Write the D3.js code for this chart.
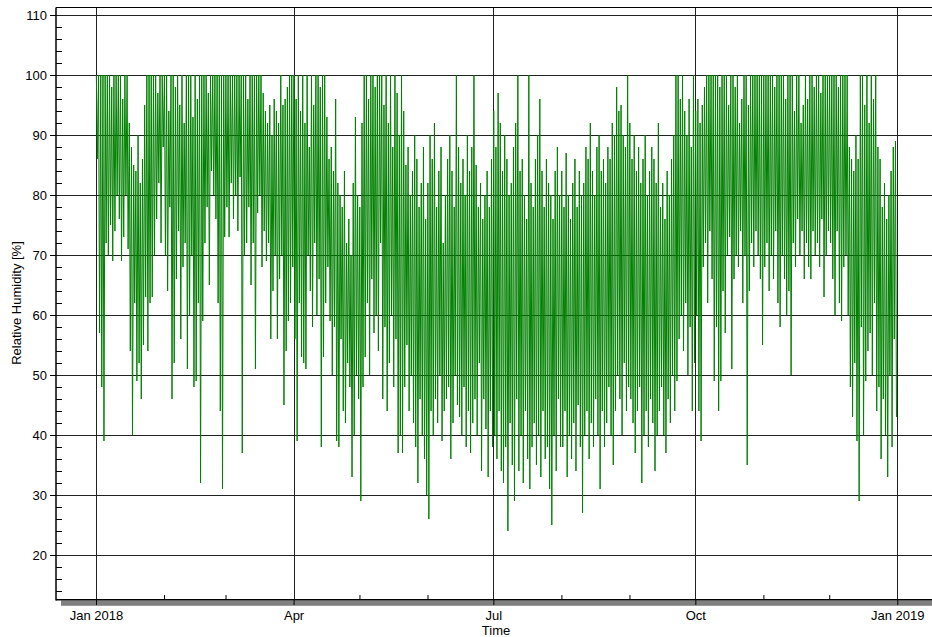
<!DOCTYPE html>
<html><head><meta charset="utf-8">
<script src="https://cdn.jsdelivr.net/npm/d3@7"></script>
<style>
body{margin:0;background:#fff}
svg{display:block}
text{font-family:"Liberation Sans",Arial,sans-serif}
</style></head>
<body><svg id="c" width="932" height="637"></svg>
<script>
// Daily maximum relative humidity [%] per month of 2018
const maxJan=[100,100,100,100,100,100,100,98,100,100,100,100,96,100,100,92,88,85,84,90,82,86,95,100,100,100,100,100,97,100,100];
const maxFeb=[100,100,94,100,100,98,100,95,100,92,100,100,100,93,100,96,100,100,100,100,97,100,100,100,100,100,100,100];
const maxMar=[100,100,100,100,100,100,100,100,100,100,96,100,100,100,100,100,100,97,94,92,95,90,96,94,92,100,95,96,98,100,100];
const maxApr=[100,96,100,94,100,92,100,88,100,95,100,100,98,100,100,93,86,88,84,96,82,80,78,84,72,76,70,82,93,80];
const maxMay=[78,92,100,100,96,100,100,98,100,100,100,95,100,92,100,88,100,97,90,100,94,85,88,80,84,90,86,78,82,88,76];
const maxJun=[82,90,86,92,78,84,88,72,80,86,90,84,78,100,88,82,86,80,90,84,88,100,85,78,82,76,80,84,78,86];
const maxJul=[94,88,97,92,84,90,86,80,82,88,92,100,84,86,80,76,100,82,78,86,90,96,84,78,86,82,80,76,84,88,80];
const maxAug=[84,78,87,80,76,82,86,78,84,80,82,88,86,92,84,80,88,90,84,86,82,88,86,92,90,98,94,95,90,88,100];
const maxSep=[92,86,90,84,88,82,86,90,80,84,88,86,82,92,78,82,76,84,80,86,90,100,100,96,100,94,90,96,88,100];
const maxOct=[94,96,92,95,98,100,100,100,100,100,100,98,100,100,100,95,100,100,98,100,92,96,100,100,95,100,100,100,100,100,100];
const maxNov=[100,100,100,100,100,98,100,100,100,100,96,100,100,100,94,100,100,92,95,100,96,100,100,98,100,100,97,100,100,100];
const maxDec=[100,100,100,100,98,100,100,100,100,88,86,84,90,86,100,100,95,100,92,100,96,100,88,86,78,82,76,80,84,88,89];
// Daily minimum relative humidity [%]
const minJan=[86,57,48,39,72,70,75,69,74,80,76,69,73,80,71,54,40,62,49,52,46,55,63,54,62,63,70,76,82,72,88];
const minFeb=[70,64,78,46,52,66,74,56,68,72,51,60,70,48,49,62,32,59,72,78,65,84,80,76,62,44,31,73];
const minMar=[78,73,82,76,80,74,83,37,70,72,78,65,72,51,77,80,68,74,69,72,56,64,70,56,66,70,45,54,59,62,68];
const minApr=[56,39,62,53,52,51,70,64,58,72,60,66,38,53,62,68,59,50,58,39,38,56,44,42,52,48,33,40,50,46];
const minMay=[29,48,53,62,50,66,57,60,54,72,46,58,44,52,60,48,56,37,40,37,48,55,44,50,42,38,32,46,40,36,30];
const minJun=[26,44,40,46,42,50,39,44,46,48,36,42,50,45,43,40,48,38,44,37,42,46,40,52,34,46,41,33,44,38];
const minJul=[40,36,44,34,32,38,24,42,35,29,46,34,40,32,44,36,31,38,42,35,40,33,44,36,38,31,25,40,34,46,38];
const minAug=[38,44,33,40,36,42,34,45,38,27,40,44,36,42,38,46,40,31,44,38,42,48,40,35,44,50,46,40,52,44,48];
const minSep=[46,42,37,44,48,32,40,44,38,46,42,34,40,44,48,40,37,46,42,50,44,49,56,60,54,62,50,58,44,52];
const minOct=[60,44,39,68,72,62,74,66,49,58,44,49,64,57,70,73,51,66,70,68,74,62,70,35,64,72,68,74,70,66,55];
const minNov=[68,72,64,70,66,74,62,58,70,66,60,64,50,72,68,76,70,74,66,72,68,66,74,70,72,68,76,63,70,74];
const minDec=[72,66,60,74,62,59,68,70,60,48,43,52,39,29,58,40,49,54,57,50,62,44,48,36,46,40,33,50,38,56,43];

const maxByMonth=[maxJan,maxFeb,maxMar,maxApr,maxMay,maxJun,maxJul,maxAug,maxSep,maxOct,maxNov,maxDec];
const minByMonth=[minJan,minFeb,minMar,minApr,minMay,minJun,minJul,minAug,minSep,minOct,minNov,minDec];

const yTicks=[20,30,40,50,60,70,80,90,100,110];
const yMinorTicks=[14,16,18,22,24,26,28,32,34,36,38,42,44,46,48,52,54,56,58,62,64,66,68,72,74,76,78,82,84,86,88,92,94,96,98,102,104,106,108];
const xMajorTicks=["2018-01-01","2018-04-01","2018-07-01","2018-10-01","2019-01-01"];
const xMajorLabels=["Jan 2018","Apr","Jul","Oct","Jan 2019"];
const xMinorTicks=["2018-02-01","2018-03-01","2018-05-01","2018-06-01","2018-08-01","2018-09-01","2018-11-01","2018-12-01"];

// build series: night maximum and afternoon minimum each day
const series=[];
maxByMonth.forEach((arr,m)=>{
  arr.forEach((v,i)=>{
    series.push({t:new Date(Date.UTC(2018,m,i+1,4)),v:v});
    series.push({t:new Date(Date.UTC(2018,m,i+1,15)),v:minByMonth[m][i]});
  });
});

const W=932,H=637,L=56,T=7.5,B=600,R=932;
const svg=d3.select("#c");
const x=d3.scaleUtc().domain([new Date(Date.UTC(2018,0,1)),new Date(Date.UTC(2019,0,1))]).range([96,897.3]);
const y=d3.scaleLinear().domain([12.5,111.25]).range([B,T]);
const parse=s=>new Date(s+"T00:00:00Z");

svg.append("clipPath").attr("id","clip").append("rect").attr("x",L).attr("y",T).attr("width",R-L).attr("height",B-T);

// grid
svg.append("g").selectAll("line").data(yTicks).join("line")
  .attr("x1",L).attr("x2",R).attr("y1",d=>Math.round(y(d))+0.5).attr("y2",d=>Math.round(y(d))+0.5)
  .attr("stroke","#222").attr("stroke-width",1);
svg.append("g").selectAll("line").data(xMajorTicks).join("line")
  .attr("x1",d=>Math.round(x(parse(d)))+0.5).attr("x2",d=>Math.round(x(parse(d)))+0.5).attr("y1",T).attr("y2",B)
  .attr("stroke","#222").attr("stroke-width",1);

// data line
svg.append("path").datum(series).attr("clip-path","url(#clip)")
  .attr("fill","none").attr("stroke","#008000").attr("stroke-width",1)
  .attr("d",d3.line().x(d=>x(d.t)).y(d=>y(d.v)));

// frame
svg.append("line").attr("x1",L).attr("x2",R).attr("y1",T).attr("y2",T).attr("stroke","#000").attr("stroke-width",1.2);
svg.append("line").attr("x1",L).attr("x2",L).attr("y1",T).attr("y2",B+0.5).attr("stroke","#000").attr("stroke-width",1.5);
svg.append("rect").attr("x",61).attr("y",600.5).attr("width",R-61).attr("height",5.3).attr("fill","#808080");
svg.append("line").attr("x1",L).attr("x2",R).attr("y1",599.8).attr("y2",599.8).attr("stroke","#000").attr("stroke-width",1.5);

// y axis
const ya=svg.append("g").attr("transform","translate("+L+",0)")
  .call(d3.axisLeft(y).tickValues(yTicks).tickSize(6).tickPadding(3));
ya.select(".domain").remove();
ya.selectAll("line").attr("stroke","#000");
ya.selectAll("text").attr("font-size","13px").attr("fill","#000").style("font-family","'Liberation Sans',Arial,sans-serif");
const ym=svg.append("g").attr("transform","translate("+L+",0)")
  .call(d3.axisRight(y).tickValues(yMinorTicks).tickSize(6).tickFormat(""));
ym.select(".domain").remove();
ym.selectAll("line").attr("stroke","#000");

// x axis
const xa=svg.append("g").attr("transform","translate(0,"+B+")")
  .call(d3.axisBottom(x).tickValues(xMajorTicks.map(parse)).tickSize(5).tickPadding(6)
    .tickFormat((d,i)=>xMajorLabels[i]));
xa.select(".domain").remove();
xa.selectAll("line").attr("stroke","#000");
xa.selectAll("text").attr("font-size","13px").attr("fill","#000").style("font-family","'Liberation Sans',Arial,sans-serif");
const xm=svg.append("g").attr("transform","translate(0,"+B+")")
  .call(d3.axisTop(x).tickValues(xMinorTicks.map(parse)).tickSize(5).tickFormat(""));
xm.select(".domain").remove();
xm.selectAll("line").attr("stroke","#000");

// titles
svg.append("text").attr("x",496).attr("y",635).attr("text-anchor","middle").attr("font-size","13px").text("Time");
svg.append("text").attr("transform","translate(21,303) rotate(-90)").attr("text-anchor","middle").attr("font-size","13px").text("Relative Humidity [%]");
</script></body></html>
